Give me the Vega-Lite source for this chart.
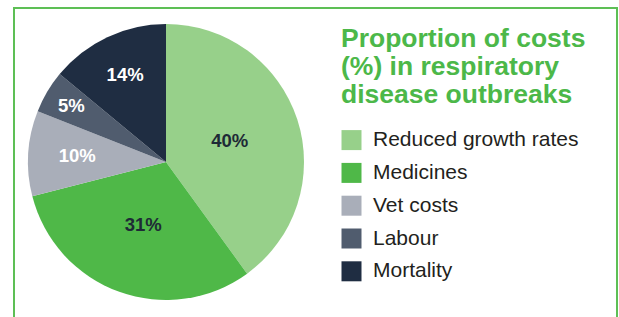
{
  "$schema": "https://vega.github.io/schema/vega-lite/v6.json",
  "width": 603,
  "height": 315,
  "autosize": {"type": "none"},
  "padding": {"left": 14, "top": 8, "right": 2, "bottom": -6},
  "background": "white",
  "view": {"stroke": "#5dbf55", "strokeWidth": 2, "fill": "white"},
  "config": {"view": {"stroke": "#5dbf55", "strokeWidth": 2}},
  "data": {
    "values": [
      {"category": "Reduced growth rates", "share": 40, "label": "40%", "rank": 1},
      {"category": "Medicines", "share": 31, "label": "31%", "rank": 2},
      {"category": "Vet costs", "share": 10, "label": "10%", "rank": 3},
      {"category": "Labour", "share": 5, "label": "5%", "rank": 4},
      {"category": "Mortality", "share": 14, "label": "14%", "rank": 5}
    ]
  },
  "layer": [
    {
      "mark": {"type": "arc", "outerRadius": 138, "x": 152, "y": 154},
      "encoding": {
        "theta": {"field": "share", "type": "quantitative", "stack": true},
        "order": {"field": "rank", "type": "quantitative"},
        "color": {
          "field": "category",
          "type": "nominal",
          "scale": {
            "domain": ["Reduced growth rates", "Medicines", "Vet costs", "Labour", "Mortality"],
            "range": ["#97d08a", "#4fb848", "#a9aeb9", "#505c6e", "#1f2d42"]
          },
          "legend": {
            "orient": "none",
            "legendX": 327,
            "legendY": 17.5,
            "title": ["Proportion of costs", "(%) in respiratory", "disease outbreaks"],
            "titleFont": "Liberation Sans",
            "titleFontSize": 26.5,
            "titleFontWeight": "bold",
            "titleColor": "#4cb849",
            "titleLineHeight": 28.3,
            "titlePadding": 21,
            "titleLimit": 400,
            "labelFont": "Liberation Sans",
            "labelFontSize": 21,
            "labelColor": "#231f20",
            "labelLimit": 300,
            "labelOffset": 11,
            "symbolType": "square",
            "symbolSize": 400,
            "symbolStrokeWidth": 0,
            "symbolOpacity": 1,
            "rowPadding": 10.8
          }
        }
      }
    },
    {
      "mark": {
        "type": "text",
        "x": 152,
        "y": 154,
        "radius": {"expr": "datum.share >= 30 ? 67 : datum.share == 10 ? 89 : datum.share == 5 ? 110 : 96"},
        "font": "Liberation Sans",
        "fontSize": 18.5,
        "fontWeight": "bold"
      },
      "encoding": {
        "theta": {"field": "share", "type": "quantitative", "stack": true},
        "order": {"field": "rank", "type": "quantitative"},
        "text": {"field": "label"},
        "color": {
          "condition": {"test": "datum.share >= 30", "value": "#1e2a36"},
          "value": "white"
        }
      }
    }
  ]
}
